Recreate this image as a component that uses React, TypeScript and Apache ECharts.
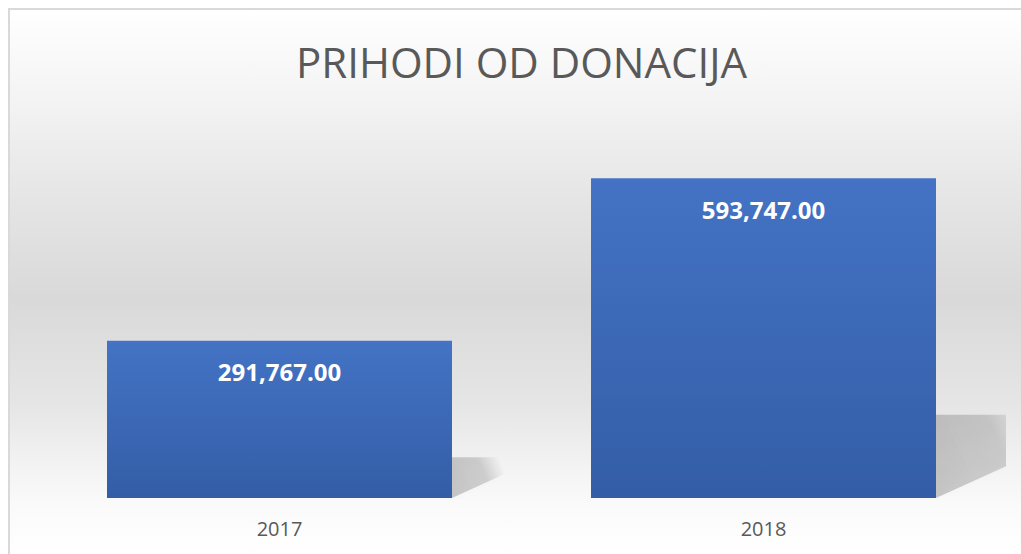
import React, { useEffect, useRef } from "react";
import * as echarts from "echarts";

const categories = ["2017", "2018"];
const values = [291767, 593747];
const titleText = "PRIHODI OD DONACIJA";

const BAR_W = 345;

export default function App() {
  const ref = useRef<HTMLDivElement>(null);

  useEffect(() => {
    document.documentElement.style.overflow = "hidden";
    document.body.style.margin = "0";
    if (!ref.current) return;
    const chart = echarts.init(ref.current, undefined, { renderer: "svg" });
    const fmt = (v: number) =>
      v.toLocaleString("en-US", { minimumFractionDigits: 2, maximumFractionDigits: 2 });

    chart.setOption({
      animation: false,
      backgroundColor: {
        type: "linear",
        x: 0,
        y: 0,
        x2: 0,
        y2: 1,
        colorStops: [
          { offset: 0, color: "#ffffff" },
          { offset: 0.17, color: "#f3f3f3" },
          { offset: 0.35, color: "#e5e5e5" },
          { offset: 0.53, color: "#d9d9d9" },
          { offset: 0.72, color: "#e5e5e5" },
          { offset: 0.85, color: "#f4f4f4" },
          { offset: 0.91, color: "#fafafa" },
          { offset: 1, color: "#ffffff" },
        ],
      },
      title: {
        text: titleText,
        left: 281,
        top: 25,
        textStyle: {
          fontFamily: "Open Sans",
          fontSize: 42,
          fontWeight: "normal",
          color: "#595959",
        },
      },
      grid: { left: 27.5, right: 15.5, top: 111, bottom: 56, containLabel: false },
      xAxis: {
        type: "category",
        data: categories,
        axisLine: { show: false },
        axisTick: { show: false },
        axisLabel: {
          margin: 20,
          fontFamily: "Open Sans",
          fontSize: 20,
          color: "#595959",
        },
      },
      yAxis: {
        type: "value",
        min: 0,
        max: 700000,
        show: false,
        splitLine: { show: false },
      },
      series: [
        {
          type: "custom",
          z: 1,
          clip: true,
          data: values.map((v, i) => [i, v]),
          renderItem: (params: any, api: any) => {
            const idx = api.value(0);
            const v = api.value(1);
            const base = api.coord([idx, 0]);
            const top = api.coord([idx, v]);
            const half = BAR_W / 2;
            const left = base[0] - half;
            const right = base[0] + half;
            const h = base[1] - top[1];
            const sh = h * 0.26;
            const shift = sh * 2.2;
            return {
              type: "polygon",
              shape: {
                points: [
                  [left, base[1]],
                  [right, base[1]],
                  [right + shift, base[1] - sh],
                  [left + shift, base[1] - sh],
                ],
              },
              style: {
                fill: new echarts.graphic.LinearGradient(
                  right,
                  base[1],
                  right + shift,
                  base[1] - sh,
                  [
                    { offset: 0, color: "rgba(0,0,0,0.2)" },
                    { offset: 0.4, color: "rgba(0,0,0,0.15)" },
                    { offset: 0.6, color: "rgba(0,0,0,0.0)" },
                  ],
                  true
                ),
                shadowBlur: 6,
                shadowColor: "rgba(0,0,0,0.08)",
              },
            };
          },
        },
        {
          type: "bar",
          z: 2,
          data: values,
          barWidth: BAR_W,
          itemStyle: {
            color: new echarts.graphic.LinearGradient(0, 0, 0, 1, [
              { offset: 0, color: "#4473c5" },
              { offset: 1, color: "#335da6" },
            ]),
          },
          label: {
            show: true,
            position: "insideTop",
            distance: 19,
            formatter: (p: any) => fmt(p.value),
            fontFamily: "Open Sans",
            fontWeight: "bold",
            fontSize: 24,
            color: "#ffffff",
          },
        },
      ],
    });
    return () => chart.dispose();
  }, []);

  return (
    <div
      style={{
        position: "absolute",
        left: 8,
        top: 8,
        width: 1013,
        height: 546,
        borderTop: "2px solid #d9d9d9",
        borderLeft: "2px solid #d9d9d9",
        boxSizing: "border-box",
      }}
    >
      <div ref={ref} style={{ width: 1011, height: 544 }} />
    </div>
  );
}
